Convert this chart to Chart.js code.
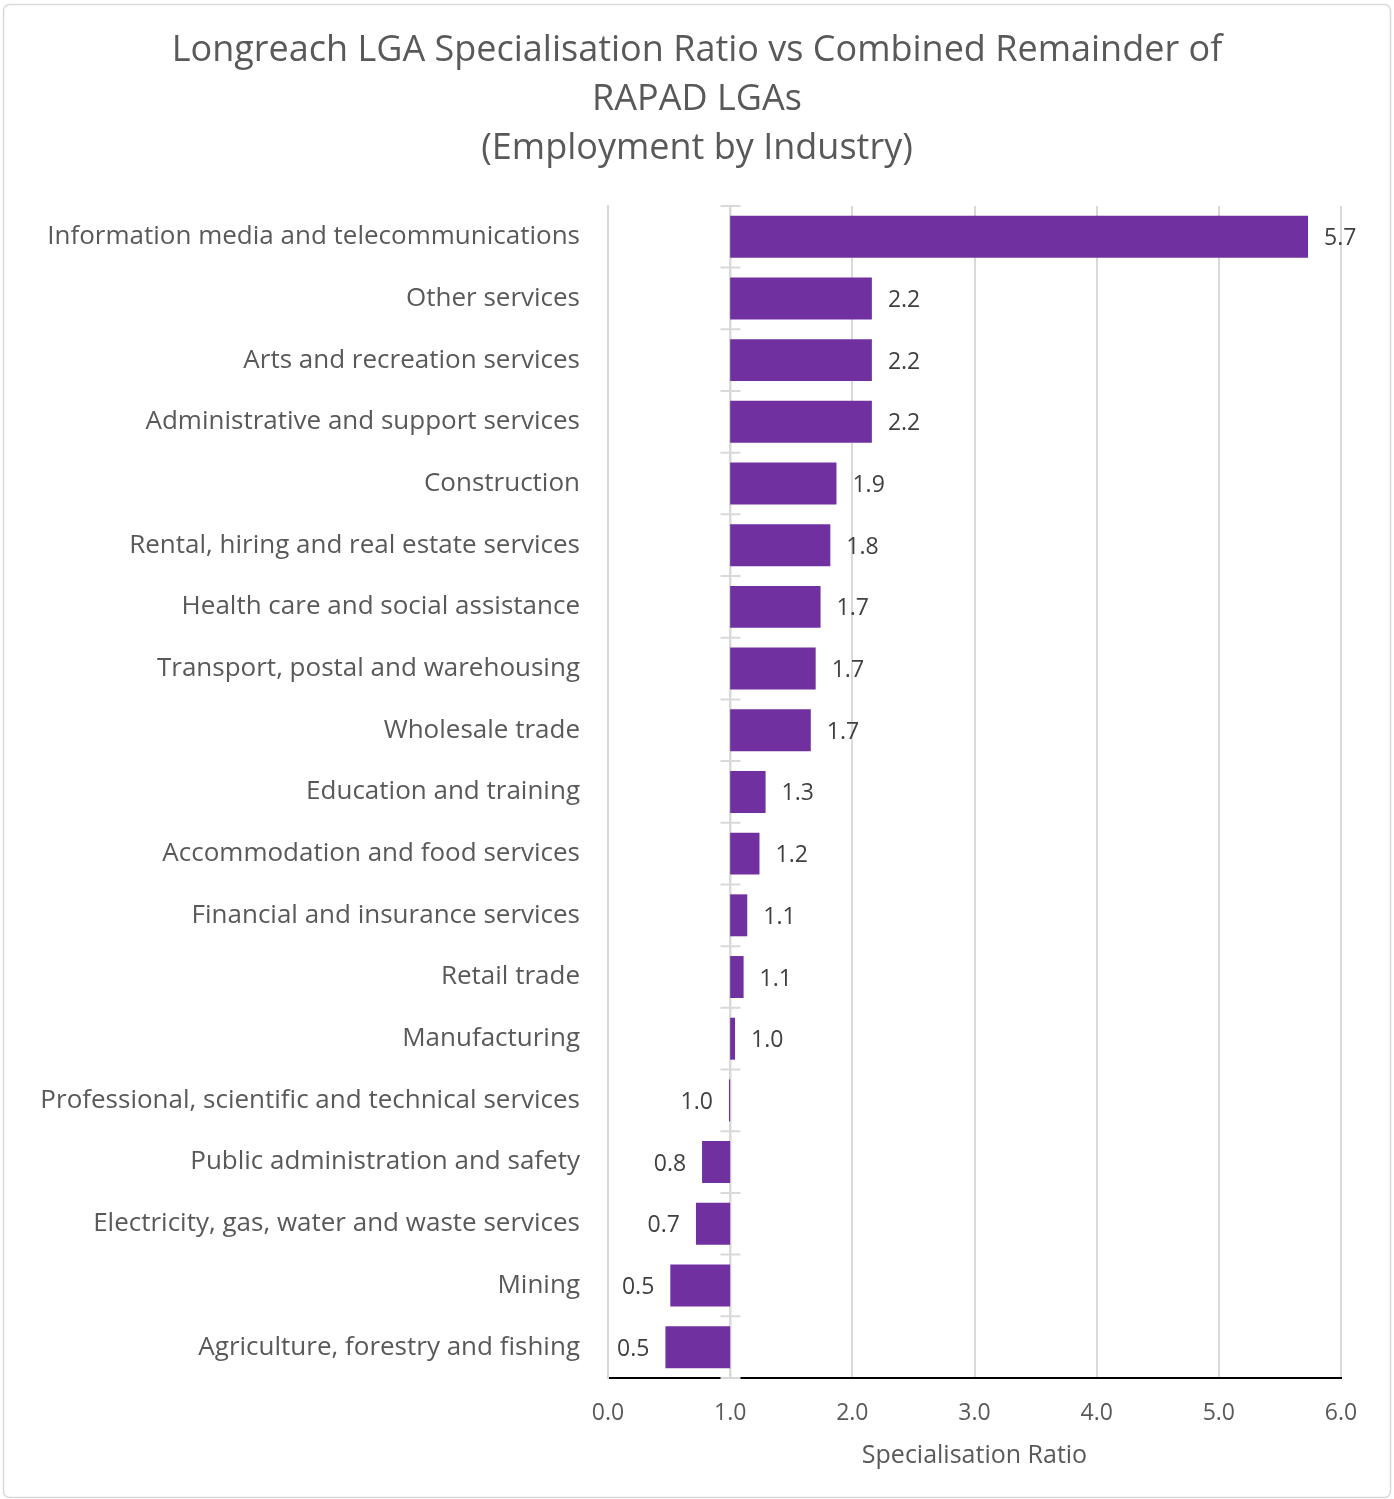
<!DOCTYPE html>
<html>
<head>
<meta charset="utf-8">
<script src="https://cdn.jsdelivr.net/npm/chart.js@4.4.1/dist/chart.umd.min.js"></script>
<style>
  html, body { margin: 0; padding: 0; background: #fff; }
  #wrap { position: absolute; left: 0; top: 0; width: 1394px; height: 1499px; }
</style>
</head>
<body>
<div id="wrap"><canvas id="c" width="1394" height="1499"></canvas></div>
<script>
const categories = [
  "Information media and telecommunications",
  "Other services",
  "Arts and recreation services",
  "Administrative and support services",
  "Construction",
  "Rental, hiring and real estate services",
  "Health care and social assistance",
  "Transport, postal and warehousing",
  "Wholesale trade",
  "Education and training",
  "Accommodation and food services",
  "Financial and insurance services",
  "Retail trade",
  "Manufacturing",
  "Professional, scientific and technical services",
  "Public administration and safety",
  "Electricity, gas, water and waste services",
  "Mining",
  "Agriculture, forestry and fishing"
];
const ratios = [5.73, 2.16, 2.16, 2.16, 1.87, 1.82, 1.74, 1.70, 1.66, 1.29, 1.24, 1.14, 1.11, 1.04, 0.99, 0.77, 0.72, 0.51, 0.47];
const baseline = 1.0;
const xTicks = [0, 1, 2, 3, 4, 5, 6];
const titleLines = [
  "Longreach LGA Specialisation Ratio vs Combined Remainder of",
  "RAPAD LGAs",
  "(Employment by Industry)"
];
const xAxisTitle = "Specialisation Ratio";

const FONT = "'Open Sans', 'DejaVu Sans', sans-serif";
const TEXT = "#595959";
const GRID = "#d9d9d9";
const BAR = "#7030A0";

const frame = {
  id: 'frame',
  beforeDraw(chart) {
    const ctx = chart.ctx;
    ctx.save();
    ctx.fillStyle = '#fff';
    ctx.fillRect(0, 0, chart.width, chart.height);
    ctx.strokeStyle = GRID;
    ctx.lineWidth = 1.5;
    ctx.beginPath();
    ctx.roundRect(3.5, 4.5, 1387, 1493, 6);
    ctx.stroke();
    ctx.restore();
  }
};

const crossAxis = {
  id: 'crossAxis',
  beforeDatasetsDraw(chart) {
    const ctx = chart.ctx;
    const xs = chart.scales.x;
    const ca = chart.chartArea;
    const px = Math.round(xs.getPixelForValue(baseline)) + 0.5;
    ctx.save();
    ctx.strokeStyle = GRID;
    ctx.lineWidth = 2;
    ctx.beginPath();
    ctx.moveTo(px, ca.top);
    ctx.lineTo(px, ca.bottom);
    const n = categories.length;
    for (let i = 0; i <= n; i++) {
      const yy = ca.top + (ca.bottom - ca.top) * i / n;
      ctx.moveTo(px - 10, yy);
      ctx.lineTo(px + 10, yy);
    }
    ctx.stroke();
    ctx.restore();
  }
};

const valueLabels = {
  id: 'valueLabels',
  afterDatasetsDraw(chart) {
    const ctx = chart.ctx;
    const xs = chart.scales.x;
    const meta = chart.getDatasetMeta(0);
    ctx.save();
    ctx.font = "23px " + FONT;
    ctx.fillStyle = "#404040";
    ctx.textBaseline = 'middle';
    meta.data.forEach((el, i) => {
      const v = ratios[i];
      const p = xs.getPixelForValue(v);
      const t = v.toFixed(1);
      if (v >= baseline) {
        ctx.textAlign = 'left';
        ctx.fillText(t, p + 16, el.y + 2);
      } else {
        ctx.textAlign = 'right';
        ctx.fillText(t, p - 16, el.y + 2);
      }
    });
    ctx.restore();
  }
};

new Chart(document.getElementById('c'), {
  type: 'bar',
  data: {
    labels: categories,
    datasets: [{
      data: ratios.map(v => [baseline, v]),
      backgroundColor: BAR,
      borderWidth: 0,
      categoryPercentage: 1.0,
      barPercentage: 0.68
    }]
  },
  options: {
    indexAxis: 'y',
    responsive: false,
    animation: false,
    devicePixelRatio: 1,
    layout: { padding: { left: 0, right: 0, top: 18, bottom: 0 } },
    plugins: {
      legend: { display: false },
      tooltip: { enabled: false },
      title: {
        display: true,
        text: titleLines,
        color: TEXT,
        font: { family: FONT, size: 36, weight: 'normal', lineHeight: 1.36 },
        padding: { top: 8, bottom: 33 }
      }
    },
    scales: {
      x: {
        type: 'linear',
        min: 0, max: 6,
        afterBuildTicks(scale) { scale.ticks = xTicks.map(v => ({ value: v })); },
        afterFit(scale) { scale.height = 121; scale.paddingRight = 53; },
        ticks: {
          color: TEXT,
          font: { family: FONT, size: 23 },
          padding: 22,
          callback: v => Number(v).toFixed(1)
        },
        grid: { color: GRID, lineWidth: 2, drawTicks: false },
        border: { color: '#000', width: 2 },
        title: {
          display: true,
          text: xAxisTitle,
          color: TEXT,
          font: { family: FONT, size: 25 },
          padding: { top: 4, bottom: 28 }
        }
      },
      y: {
        type: 'category',
        afterFit(scale) { scale.width = 608; },
        ticks: {
          color: TEXT,
          font: { family: FONT, size: 26 },
          padding: 28,
          autoSkip: false
        },
        grid: { display: false, drawTicks: false },
        border: { color: GRID, width: 2 }
      }
    }
  },
  plugins: [frame, crossAxis, valueLabels]
});
</script>
</body>
</html>
